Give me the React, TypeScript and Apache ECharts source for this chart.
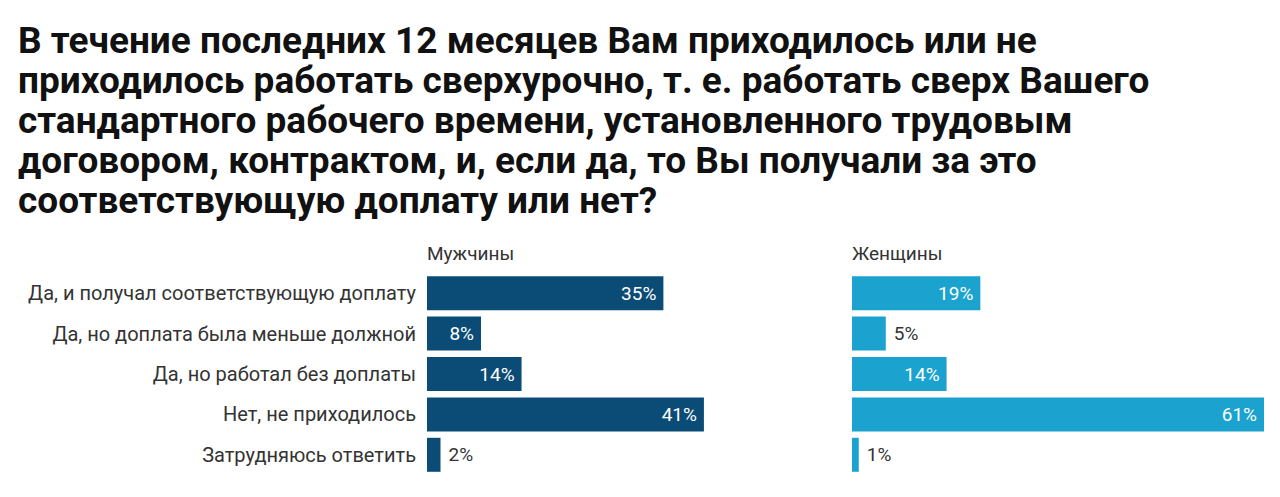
import React, { useEffect, useRef } from "react";
import * as echarts from "echarts";

const titleLines = [
  "В течение последних 12 месяцев Вам приходилось или не",
  "приходилось работать сверхурочно, т. е. работать сверх Вашего",
  "стандартного рабочего времени, установленного трудовым",
  "договором, контрактом, и, если да, то Вы получали за это",
  "соответствующую доплату или нет?",
];
const categories = [
  "Да, и получал соответствующую доплату",
  "Да, но доплата была меньше должной",
  "Да, но работал без доплаты",
  "Нет, не приходилось",
  "Затрудняюсь ответить",
];
const groupNames = ["Мужчины", "Женщины"];
const menValues = [35, 8, 14, 41, 2];
const womenValues = [19, 5, 14, 61, 1];

const MEN_COLOR = "#0b4c77";
const WOMEN_COLOR = "#1ba2cf";
const FONT = "Roboto";

function makeData(values: number[], threshold: number) {
  return values.map((v) => ({
    value: v,
    label:
      v >= threshold
        ? { position: "insideRight", color: "#ffffff", offset: [-2, 0] }
        : { position: "right", color: "#333333", distance: 8 },
  }));
}

export default function App() {
  const ref = useRef<HTMLDivElement>(null);
  useEffect(() => {
    if (!ref.current) return;
    const chart = echarts.init(ref.current, undefined, { renderer: "svg" });
    const gridTop = 273;
    const gridH = 202;
    const gridW = 412;
    chart.setOption({
      animation: false,
      backgroundColor: "#ffffff",
      textStyle: { fontFamily: FONT },
      graphic: [
        {
          type: "text",
          left: 18,
          top: 20,
          style: {
            text: titleLines.join("\n"),
            font: `bold 37px ${FONT}`,
            lineHeight: 40,
            fill: "#111111",
          },
        },
        {
          type: "text",
          left: 427,
          top: 244,
          style: { text: groupNames[0], font: `19px ${FONT}`, fill: "#333333" },
        },
        {
          type: "text",
          left: 852,
          top: 244,
          style: { text: groupNames[1], font: `19px ${FONT}`, fill: "#333333" },
        },
      ],
      grid: [
        { left: 427, top: gridTop, width: gridW, height: gridH },
        { left: 852, top: gridTop, width: gridW, height: gridH },
      ],
      xAxis: [0, 1].map((i) => ({
        type: "value",
        gridIndex: i,
        min: 0,
        max: 61,
        show: false,
      })),
      yAxis: [0, 1].map((i) => ({
        type: "category",
        gridIndex: i,
        data: categories,
        inverse: true,
        axisLine: { show: false },
        axisTick: { show: false },
        splitLine: { show: false },
        axisLabel: {
          show: i === 0,
          color: "#333333",
          fontSize: 20,
          fontFamily: FONT,
          margin: 11,
        },
      })),
      series: [
        {
          type: "bar",
          name: groupNames[0],
          xAxisIndex: 0,
          yAxisIndex: 0,
          data: makeData(menValues, 8),
          barWidth: 34,
          itemStyle: { color: MEN_COLOR },
          label: {
            show: true,
            formatter: "{c}%",
            fontSize: 19,
            fontFamily: FONT,
          },
        },
        {
          type: "bar",
          name: groupNames[1],
          xAxisIndex: 1,
          yAxisIndex: 1,
          data: makeData(womenValues, 8),
          barWidth: 34,
          itemStyle: { color: WOMEN_COLOR },
          label: {
            show: true,
            formatter: "{c}%",
            fontSize: 19,
            fontFamily: FONT,
          },
        },
      ],
    });
    return () => chart.dispose();
  }, []);
  return (
    <div
      ref={ref}
      style={{ position: "fixed", left: 0, top: 0, width: 1280, height: 497 }}
    />
  );
}
